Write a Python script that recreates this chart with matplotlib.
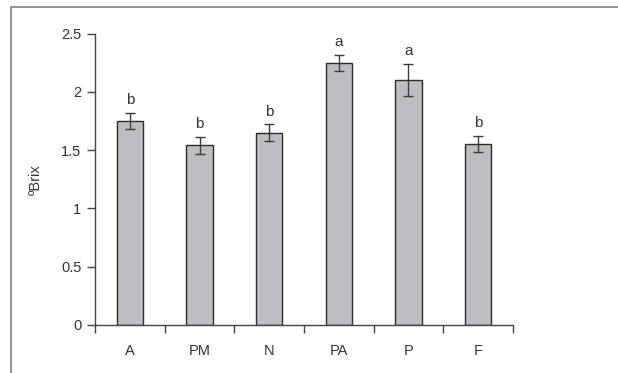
import numpy as np
import matplotlib.pyplot as plt
from matplotlib.patches import Rectangle

# tratamientos, medias de ºBrix, error estándar y letras de Tukey
tratamientos = ["A", "PM", "N", "PA", "P", "F"]
brix = [1.75, 1.54, 1.65, 2.25, 2.10, 1.55]
error = [0.07, 0.07, 0.07, 0.07, 0.14, 0.07]
letras = ["b", "b", "b", "a", "a", "b"]

plt.rcParams['font.family'] = ['Liberation Sans', 'DejaVu Sans']

fig = plt.figure(figsize=(6.18, 3.73), dpi=100)
ax = fig.add_axes([0.154, 0.129, 0.676, 0.781])

# marco gris alrededor de la figura
marco = Rectangle((11 / 618, -0.2), 1.2, 0.2 + (373 - 7) / 373, transform=fig.transFigure,
                  fill=False, edgecolor='#8a8a8a', linewidth=1.3, clip_on=False)
fig.patches.append(marco)

x = np.arange(len(tratamientos))
ax.bar(x, brix, width=0.38, color='#bdbec2', edgecolor='#2b2b2b', linewidth=1.0, zorder=2)
ax.errorbar(x, brix, yerr=error, fmt='none', ecolor='#3a3a3a', elinewidth=1.0,
            capsize=3.5, capthick=1.0, zorder=3)

for xi, v, e, l in zip(x, brix, error, letras):
    ax.text(xi, v + e + 0.05, l, ha='center', va='bottom', fontsize=11, color='#333333')

ax.set_xlim(-0.5, len(tratamientos) - 0.5)
ax.set_ylim(0, 2.5)
ax.set_yticks([0, 0.5, 1, 1.5, 2, 2.5])
ax.set_yticklabels(["0", "0.5", "1", "1.5", "2", "2.5"])
ax.set_xticks(x)
ax.set_xticklabels(tratamientos)
ax.set_xticks(np.arange(-0.5, len(tratamientos)), minor=True)
ax.tick_params(axis='x', which='major', length=0, pad=14, labelsize=10.5, colors='#333333')
ax.tick_params(axis='x', which='minor', length=6, width=1.0, color='#444444', direction='out')
ax.tick_params(axis='y', length=6, width=1.0, color='#444444', labelsize=10.5,
               labelcolor='#333333', pad=4)

for s in ['top', 'right']:
    ax.spines[s].set_visible(False)
for s in ['left', 'bottom']:
    ax.spines[s].set_color('#444444')
    ax.spines[s].set_linewidth(1.0)

ax.set_ylabel("ºBrix", fontsize=10.5, color='#333333', labelpad=13)

fig.savefig("out.png", dpi=100)
